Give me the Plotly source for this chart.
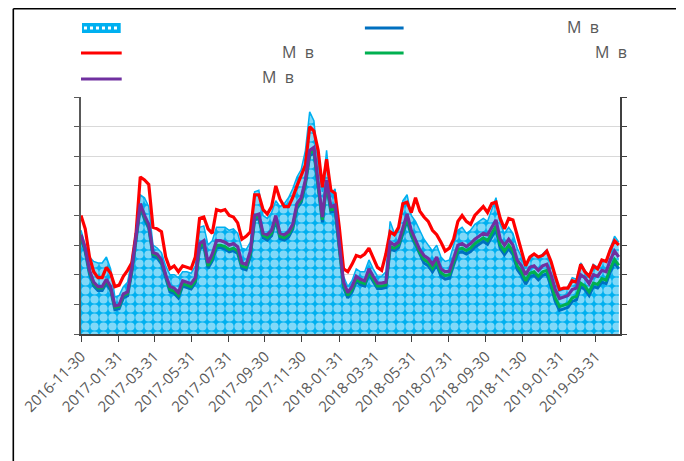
import plotly.graph_objects as go
import pandas as pd

# weekly observations starting 2016-11-30
start_date = "2016-11-30"
n_weeks = 128
dates = pd.date_range(start_date, periods=n_weeks, freq="7D")

tick_dates = ["2016-11-30", "2017-01-31", "2017-03-31", "2017-05-31", "2017-07-31",
              "2017-09-30", "2017-11-30", "2018-01-31", "2018-03-31", "2018-05-31",
              "2018-07-31", "2018-09-30", "2018-11-30", "2019-01-31", "2019-03-31"]

area_vals = [3.5, 3.0, 2.6, 2.45, 2.4, 2.4, 2.6, 2.2, 1.25, 1.3,
             1.6, 1.75, 2.5, 3.5, 4.7, 4.6, 4.3, 3.0, 2.9, 2.75,
             2.3, 2.0, 2.0, 1.9, 2.1, 2.1, 2.05, 2.3, 3.6, 3.65,
             3.0, 3.15, 3.6, 3.6, 3.6, 3.5, 3.55, 3.4, 2.9, 2.85,
             3.1, 4.8, 4.85, 4.0, 3.9, 4.1, 4.5, 4.3, 4.4, 4.6,
             4.9, 5.3, 5.55, 6.2, 7.5, 7.2, 5.7, 4.8, 6.2, 4.7,
             4.9, 3.4, 1.95, 1.6, 1.8, 2.2, 2.1, 2.1, 2.5, 2.2,
             1.95, 1.95, 2.1, 3.8, 3.4, 3.5, 4.5, 4.7, 4.0, 3.8,
             3.5, 3.2, 3.0, 2.8, 3.0, 2.6, 2.45, 2.5, 3.0, 3.5,
             3.6, 3.4, 3.5, 3.7, 3.8, 3.9, 3.8, 4.2, 4.6, 3.7,
             3.4, 3.6, 3.4, 2.9, 2.6, 2.2, 2.6, 2.7, 2.55, 2.7,
             2.85, 2.4, 1.8, 1.45, 1.5, 1.6, 1.9, 1.85, 2.4, 2.15,
             1.95, 2.35, 2.25, 2.5, 2.45, 2.9, 3.3, 3.1]

blue_vals = [3.22, 2.77, 2.02, 1.62, 1.47, 1.47, 1.72, 1.47, 0.82, 0.85,
             1.22, 1.29, 2.07, 3.17, 4.27, 3.87, 3.57, 2.62, 2.57, 2.37,
             1.87, 1.42, 1.37, 1.22, 1.62, 1.57, 1.52, 1.72, 2.87, 2.97,
             2.22, 2.47, 2.92, 2.92, 2.87, 2.77, 2.82, 2.72, 2.22, 2.17,
             2.62, 3.85, 3.9, 3.25, 3.17, 3.32, 3.84, 3.22, 3.17, 3.27,
             3.54, 4.24, 4.44, 5.04, 6.02, 6.12, 5.02, 3.77, 5.02, 4.12,
             4.17, 2.82, 1.57, 1.22, 1.42, 1.77, 1.67, 1.62, 2.02, 1.77,
             1.54, 1.54, 1.57, 2.87, 2.82, 2.92, 3.42, 3.84, 3.32, 3.02,
             2.67, 2.4, 2.3, 2.1, 2.33, 1.95, 1.85, 1.88, 2.33, 2.73,
             2.78, 2.7, 2.78, 2.93, 3.03, 3.13, 3.03, 3.28, 3.53, 2.88,
             2.68, 2.88, 2.68, 2.18, 1.98, 1.68, 1.93, 1.98, 1.83, 1.98,
             2.03, 1.6, 1.1, 0.8, 0.85, 0.9, 1.1, 1.15, 1.6, 1.5,
             1.3, 1.6, 1.55, 1.75, 1.7, 2.1, 2.4, 2.2]

red_vals = [4.0, 3.55, 2.6, 2.1, 1.9, 1.9, 2.25, 2.05, 1.6, 1.65,
            1.95, 2.15, 2.4, 3.4, 5.3, 5.2, 5.05, 3.6, 3.55, 3.45,
            2.6, 2.2, 2.3, 2.1, 2.3, 2.25, 2.2, 2.6, 3.9, 3.95,
            3.55, 3.4, 4.2, 4.15, 4.2, 4.0, 3.95, 3.75, 3.2, 3.3,
            3.45, 4.7, 4.7, 4.2, 4.05, 4.3, 5.0, 4.55, 4.3, 4.3,
            4.6, 5.0, 5.35, 5.7, 7.0, 6.85, 6.2, 4.95, 5.9, 4.85,
            4.75, 3.6, 2.2, 2.1, 2.35, 2.65, 2.6, 2.7, 2.9, 2.6,
            2.25, 2.15, 2.7, 3.45, 3.35, 3.6, 4.4, 4.45, 4.1, 4.6,
            4.15, 3.95, 3.8, 3.5, 3.35, 3.1, 2.8, 2.9, 3.2, 3.8,
            4.0, 3.8, 3.7, 4.0, 4.15, 4.3, 4.1, 4.4, 4.45, 3.9,
            3.55, 3.9, 3.85, 3.3, 2.85, 2.3, 2.6, 2.7, 2.6, 2.65,
            2.8, 2.45, 1.95, 1.5, 1.55, 1.55, 1.8, 1.75, 2.35, 2.1,
            1.95, 2.3, 2.2, 2.5, 2.45, 2.85, 3.15, 3.0]

green_vals = [3.3, 2.85, 2.1, 1.7, 1.55, 1.55, 1.8, 1.55, 0.9, 0.93,
              1.3, 1.37, 2.15, 3.25, 4.35, 3.95, 3.65, 2.7, 2.65, 2.45,
              1.95, 1.5, 1.45, 1.3, 1.7, 1.65, 1.6, 1.8, 2.95, 3.05,
              2.3, 2.55, 3.0, 3.0, 2.95, 2.85, 2.9, 2.8, 2.3, 2.25,
              2.7, 3.93, 3.98, 3.33, 3.25, 3.4, 3.92, 3.3, 3.25, 3.35,
              3.62, 4.32, 4.52, 5.12, 6.1, 6.2, 5.1, 3.85, 5.1, 4.2,
              4.25, 2.9, 1.65, 1.3, 1.5, 1.85, 1.75, 1.7, 2.1, 1.85,
              1.62, 1.62, 1.65, 2.95, 2.9, 3.0, 3.5, 3.92, 3.4, 3.1,
              2.75, 2.52, 2.42, 2.22, 2.45, 2.07, 1.97, 2.0, 2.45, 2.85,
              2.9, 2.82, 2.9, 3.05, 3.15, 3.25, 3.15, 3.4, 3.65, 3.0,
              2.8, 3.0, 2.8, 2.3, 2.1, 1.8, 2.05, 2.1, 1.95, 2.1,
              2.15, 1.72, 1.22, 0.92, 0.97, 1.02, 1.22, 1.27, 1.72, 1.62,
              1.42, 1.72, 1.67, 1.87, 1.82, 2.22, 2.52, 2.32]

purple_vals = [3.35, 2.9, 2.15, 1.75, 1.6, 1.6, 1.85, 1.6, 0.95, 0.98,
               1.35, 1.42, 2.2, 3.3, 4.4, 4.0, 3.7, 2.75, 2.7, 2.5,
               2.0, 1.6, 1.55, 1.4, 1.8, 1.75, 1.7, 1.9, 3.05, 3.15,
               2.4, 2.7, 3.15, 3.15, 3.1, 3.0, 3.05, 2.95, 2.4, 2.35,
               2.8, 4.0, 4.05, 3.4, 3.35, 3.5, 4.0, 3.4, 3.35, 3.45,
               3.7, 4.4, 4.6, 5.2, 6.2, 6.3, 5.2, 3.95, 5.2, 4.3,
               4.35, 3.0, 1.75, 1.4, 1.6, 1.95, 1.85, 1.8, 2.2, 1.95,
               1.72, 1.72, 1.75, 3.1, 3.0, 3.1, 3.6, 4.05, 3.5, 3.2,
               2.85, 2.65, 2.55, 2.35, 2.6, 2.2, 2.1, 2.12, 2.6, 3.0,
               3.05, 2.95, 3.05, 3.2, 3.3, 3.4, 3.35, 3.6, 3.85, 3.2,
               3.0, 3.2, 3.0, 2.5, 2.3, 2.0, 2.25, 2.3, 2.15, 2.3,
               2.35, 2.0, 1.5, 1.2, 1.25, 1.3, 1.5, 1.55, 2.0, 1.9,
               1.7, 2.0, 1.95, 2.15, 2.1, 2.5, 2.8, 2.6]

legend_label = "М\u00a0\u00a0в"

# the page body adds an 8px offset, so layout works in figure coordinates
W, H = 684, 461
OFF = 8
ML, MT, PW, PH = 69, 89, 543, 237
MR = W - ML - PW
MB = H - MT - PH


def px(x):
    # page pixel -> paper x
    return (x - OFF - ML) / PW


def py(y):
    # page pixel -> paper y
    return (MT + PH - (y - OFF)) / PH


fig = go.Figure()

fig.add_trace(go.Scatter(
    x=dates, y=area_vals, mode="lines", name="area",
    line=dict(color="#00B0F0", width=1.5), fill="tozeroy",
    fillpattern=dict(shape=".", bgcolor="#00B0F0", fgcolor="white", size=9, solidity=0.65),
))
fig.add_trace(go.Scatter(x=dates, y=blue_vals, mode="lines", line=dict(color="#0070C0", width=3)))
fig.add_trace(go.Scatter(x=dates, y=green_vals, mode="lines", line=dict(color="#00B050", width=3)))
fig.add_trace(go.Scatter(x=dates, y=red_vals, mode="lines", line=dict(color="#FF0000", width=3.2)))
fig.add_trace(go.Scatter(x=dates, y=purple_vals, mode="lines", line=dict(color="#7030A0", width=3.2),
                         yaxis="y2"))

# legend drawn by hand (two columns, labels only partly rendered)
shapes = [
    dict(type="rect", xref="paper", yref="paper", x0=px(78), x1=px(117), y0=py(33), y1=py(23),
         fillcolor="#00B0F0", line=dict(width=0)),
    dict(type="line", xref="paper", yref="paper", x0=px(80), x1=px(115), y0=py(28), y1=py(28),
         line=dict(color="white", width=3, dash="dot")),
    dict(type="line", xref="paper", yref="paper", x0=px(77), x1=px(118), y0=py(53), y1=py(53),
         line=dict(color="#FF0000", width=3)),
    dict(type="line", xref="paper", yref="paper", x0=px(77), x1=px(118), y0=py(79), y1=py(79),
         line=dict(color="#7030A0", width=3)),
    dict(type="line", xref="paper", yref="paper", x0=px(363), x1=px(402), y0=py(28), y1=py(28),
         line=dict(color="#0070C0", width=3)),
    dict(type="line", xref="paper", yref="paper", x0=px(363), x1=px(402), y0=py(53), y1=py(53),
         line=dict(color="#00B050", width=3)),
    # chart frame
    dict(type="line", xref="paper", yref="paper", x0=px(8.8), x1=px(700), y0=py(8.8), y1=py(8.8),
         line=dict(color="black", width=1.6)),
    dict(type="line", xref="paper", yref="paper", x0=px(8.8), x1=px(8.8), y0=py(8.8), y1=py(480),
         line=dict(color="black", width=1.6)),
    dict(type="line", xref="paper", yref="paper", x0=px(682), x1=px(682), y0=py(8.8), y1=py(480),
         line=dict(color="#d9d9d9", width=1)),
]

annotations = []
for lx, ly in [(565, 27), (277, 52), (593, 52), (257, 77)]:
    annotations.append(dict(xref="paper", yref="paper", x=px(lx), y=py(ly), text=legend_label,
                            showarrow=False, xanchor="left", yanchor="middle",
                            font=dict(family="Open Sans", size=16, color="#595959")))

fig.update_layout(
    width=W, height=H,
    margin=dict(l=ML, r=MR, t=MT, b=MB),
    paper_bgcolor="white", plot_bgcolor="white",
    showlegend=False,
    shapes=shapes, annotations=annotations,
    xaxis=dict(type="date", range=["2016-11-30", "2019-05-10"],
               tickvals=tick_dates, ticktext=tick_dates, tickangle=-45,
               ticks="outside", ticklen=6, tickcolor="#404040",
               showline=True, linecolor="#404040", linewidth=1.5,
               showgrid=False, zeroline=False,
               tickfont=dict(family="Open Sans", size=15, color="#595959")),
    yaxis=dict(range=[0, 8], dtick=1, showticklabels=False,
               ticks="outside", ticklen=5, tickcolor="#595959",
               showline=True, linecolor="#595959", linewidth=1.5,
               gridcolor="#d9d9d9", zeroline=False),
    yaxis2=dict(range=[0, 8], dtick=1, overlaying="y", side="right", showticklabels=False,
                ticks="outside", ticklen=5, tickcolor="#404040",
                showline=True, linecolor="#404040", linewidth=1.5,
                showgrid=False, zeroline=False),
)

fig.write_html("out.html")
